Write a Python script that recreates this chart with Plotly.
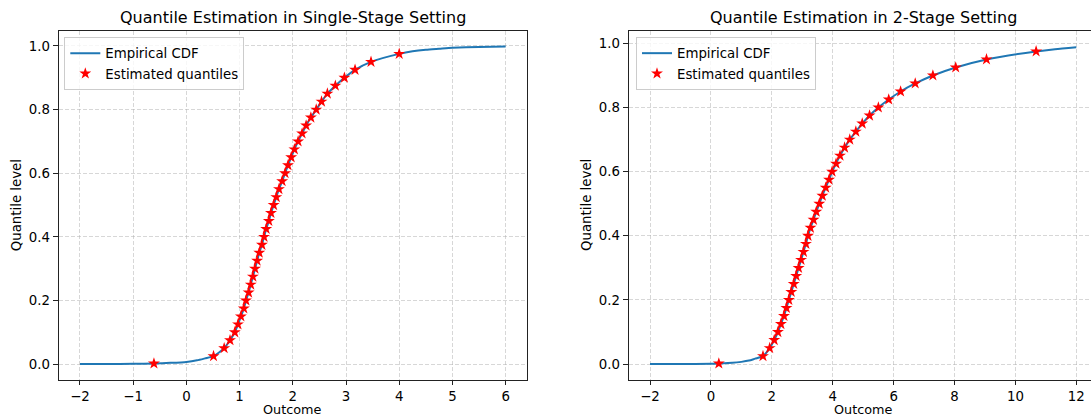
import plotly.graph_objects as go

# ---------------- data ----------------
levels = [0.002, 0.025, 0.05, 0.075, 0.1, 0.125, 0.15, 0.175, 0.2, 0.225,
          0.25, 0.275, 0.3, 0.325, 0.35, 0.375, 0.4, 0.425, 0.45, 0.475,
          0.5, 0.525, 0.55, 0.575, 0.6, 0.625, 0.65, 0.675, 0.7, 0.725,
          0.75, 0.775, 0.8, 0.825, 0.85, 0.875, 0.9, 0.925, 0.95, 0.975]

q_single = [-0.61, 0.51, 0.71, 0.82, 0.91, 0.97, 1.025, 1.08, 1.12, 1.17,
            1.21, 1.25, 1.29, 1.33, 1.37, 1.42, 1.46, 1.50, 1.55, 1.59,
            1.64, 1.69, 1.74, 1.80, 1.855, 1.91, 1.97, 2.03, 2.10, 2.175,
            2.25, 2.34, 2.44, 2.54, 2.65, 2.80, 2.97, 3.17, 3.47, 4.00]

q_two = [0.26, 1.71, 1.93, 2.08, 2.20, 2.30, 2.40, 2.48, 2.56, 2.64,
         2.72, 2.80, 2.88, 2.96, 3.04, 3.12, 3.19, 3.27, 3.37, 3.46,
         3.56, 3.66, 3.77, 3.88, 3.98, 4.11, 4.24, 4.39, 4.56, 4.76,
         4.97, 5.21, 5.50, 5.84, 6.23, 6.71, 7.29, 8.04, 9.05, 10.68]

# tails of the empirical CDF curves (outside the quantile points)
single_low_x = [-2.0, -1.5, -1.0]
single_low_y = [0.0, 0.0004, 0.001]
single_mid_x = [-0.3, 0.0, 0.2, 0.35]
single_mid_y = [0.004, 0.007, 0.012, 0.018]
single_high_x = [4.25, 4.5, 4.75, 5.0, 5.5, 6.0]
single_high_y = [0.983, 0.988, 0.991, 0.994, 0.997, 0.998]

two_low_x = [-2.0, -1.0, 0.0]
two_low_y = [0.0, 0.0004, 0.001]
two_mid_x = [0.7, 1.0, 1.25, 1.45]
two_mid_y = [0.004, 0.007, 0.011, 0.017]
two_high_x = [11.3, 12.0]
two_high_y = [0.982, 0.988]

x_ticks_single = [-2, -1, 0, 1, 2, 3, 4, 5, 6]
x_ticks_two = [-2, 0, 2, 4, 6, 8, 10, 12]
y_ticks = [0.0, 0.2, 0.4, 0.6, 0.8, 1.0]
y_tick_text = ["0.0", "0.2", "0.4", "0.6", "0.8", "1.0"]

titles = ["Quantile Estimation in Single-Stage Setting",
          "Quantile Estimation in 2-Stage Setting"]

# ---------------- build curves ----------------
cdf1_x = single_low_x + q_single[:1] + single_mid_x + q_single[1:] + single_high_x
cdf1_y = single_low_y + levels[:1] + single_mid_y + levels[1:] + single_high_y
cdf2_x = two_low_x + q_two[:1] + two_mid_x + q_two[1:] + two_high_x
cdf2_y = two_low_y + levels[:1] + two_mid_y + levels[1:] + two_high_y

W, H = 1091, 417
FONT = "DejaVu Sans"
FS = 13.33
BLUE = "#1f77b4"

fig = go.Figure()

panels = [
    dict(cx=cdf1_x, cy=cdf1_y, qx=q_single, xa="x", ya="y", leg="legend"),
    dict(cx=cdf2_x, cy=cdf2_y, qx=q_two, xa="x2", ya="y2", leg="legend2"),
]
for p in panels:
    fig.add_trace(go.Scatter(x=p["cx"], y=p["cy"], mode="lines",
                             line=dict(color=BLUE, width=2, shape="spline",
                                       smoothing=0.6),
                             name="Empirical CDF", xaxis=p["xa"], yaxis=p["ya"],
                             legend=p["leg"]))
    fig.add_trace(go.Scatter(x=p["qx"], y=levels, mode="markers",
                             marker=dict(symbol="star", color="red", size=9,
                                         line=dict(width=0)),
                             name="Estimated quantiles", xaxis=p["xa"], yaxis=p["ya"],
                             legend=p["leg"]))

# pixel geometry of the two axes boxes (right one is cropped by the image edge)
px_l = [58.7, 526.9]
px_r_full = [628.7, 1097.6]
py = [30.7, 380.0]
ydom = [1 - py[1] / H, 1 - py[0] / H]
x2_max = -2 + (W - 650.0) / 30.45

axis_common = dict(
    showline=True, linecolor="#222222", linewidth=1,
    ticks="outside", tickwidth=1, tickcolor="#222222",
    showgrid=True, gridcolor="rgba(176,176,176,0.5)", gridwidth=1,
    griddash="4px,2px", zeroline=False,
    tickfont=dict(family=FONT, size=FS, color="black"),
)

legend_common = dict(xanchor="left", yanchor="top",
                     bgcolor="rgba(255,255,255,0.8)", bordercolor="#cccccc",
                     borderwidth=1, font=dict(family=FONT, size=FS, color="black"),
                     tracegroupgap=0)

fig.update_layout(
    width=W, height=H,
    margin=dict(l=0, r=0, t=0, b=0),
    paper_bgcolor="white", plot_bgcolor="white",
    font=dict(family=FONT, color="black"),
    xaxis=dict(domain=[px_l[0] / W, px_l[1] / W], range=[-2.4, 6.4], ticklen=4,
               tickvals=x_ticks_single, anchor="y", mirror=True, **axis_common),
    yaxis=dict(domain=ydom, range=[-0.0499, 1.0479], tickvals=y_ticks, ticklen=5,
               ticktext=y_tick_text, anchor="x", mirror=True, **axis_common),
    xaxis2=dict(domain=[px_r_full[0] / W, 1.0], range=[-2.7, x2_max], ticklen=4,
                tickvals=x_ticks_two, anchor="y2", mirror=True, **axis_common),
    yaxis2=dict(domain=ydom, range=[-0.0495, 1.0395], tickvals=y_ticks, ticklen=5,
                ticktext=y_tick_text, anchor="x2", mirror=False, **axis_common),
    legend=dict(x=64.3 / W, y=1 - 37 / H, **legend_common),
    legend2=dict(x=636 / W, y=1 - 37 / H, **legend_common),
    showlegend=True,
)

ann = []
for (xl, xr), title in zip([px_l, px_r_full], titles):
    cx = (xl + xr) / 2 / W
    ann.append(dict(text=title, x=cx, y=1 - 17.3 / H, xref="paper", yref="paper",
                    xanchor="center", yanchor="middle", showarrow=False,
                    font=dict(family=FONT, size=16, color="black")))
    ann.append(dict(text="Outcome", x=cx, y=1 - 409.5 / H, xref="paper", yref="paper",
                    xanchor="center", yanchor="middle", showarrow=False,
                    font=dict(family=FONT, size=12.8, color="black")))
for xc in [16.3, 586]:
    ann.append(dict(text="Quantile level", x=xc / W, y=1 - 205 / H, xref="paper",
                    yref="paper", xanchor="center", yanchor="middle", showarrow=False,
                    textangle=-90, font=dict(family=FONT, size=FS, color="black")))
fig.update_layout(annotations=ann)

fig.write_html("out.html")
